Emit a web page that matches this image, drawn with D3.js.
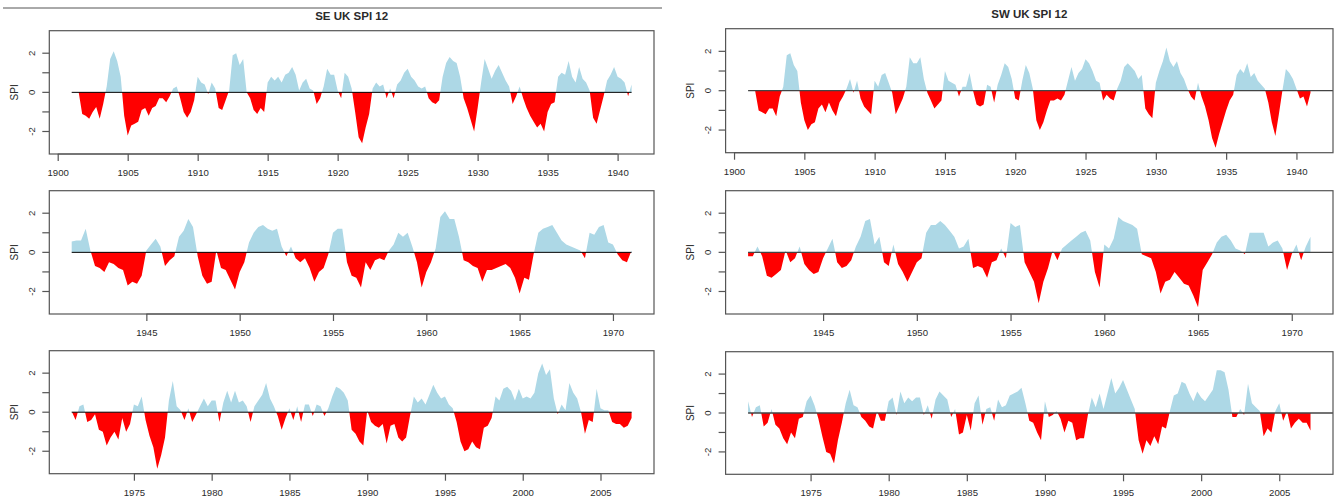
<!DOCTYPE html>
<html>
<head>
<meta charset="utf-8">
<script src="https://cdn.jsdelivr.net/npm/d3@7"></script>
<style>
  body { margin: 0; background: #fff; }
  text { font-family: "Liberation Sans", Arial, sans-serif; fill: #2a2a2a; }
</style>
</head>
<body>
<svg id="chart" width="1338" height="501"></svg>
<script>
// DATA ------------------------------------
// quarterly SPI-12 values (Jan, Apr, Jul, Oct of each year + last point)
const regionTitles = ["SE UK SPI 12", "SW UK SPI 12"];
const panelStarts = [1901, 1941, 1971];
const panelEnds = [1941, 1971, 2007];
const xTicks1 = [1900, 1905, 1910, 1915, 1920, 1925, 1930, 1935, 1940];
const xTicks2 = [1945, 1950, 1955, 1960, 1965, 1970];
const xTicks3 = [1975, 1980, 1985, 1990, 1995, 2000, 2005];
const yTicks = [-2, -1, 0, 1, 2];
const yTickLabels = ["-2", "", "0", "", "2"];

const seSpi1901 = [
  0, 0, 0, -1.1,  -1.2, -1.35, -1.0, -0.75,  -1.35, -0.6, 0.3, 1.7,  2.1, 1.6, 0.8, -1.2,
  -2.2, -1.7, -1.6, -1.5,  -0.9, -0.8, -1.2, -0.8,  -0.7, -0.3, -0.3, -0.5,  -0.2, 0.2, 0.3, -0.3,
  -1.0, -1.3, -1.0, -0.4,  0.8, 0.5, 0.4, -0.1,  0.5, 0.2, -0.8, -0.9,  -0.4, 0.1, 1.9, 2.0,
  1.4, 1.7, 0.0, -0.3,  -0.9, -1.1, -0.8, -1.0,  0.5, 0.8, 0.6, 0.8,  0.5, 0.9, 1.0, 1.3,
  0.9, 0.1, 0.5, 0.7,  0.2, 0.1, -0.6, -0.3,  0.3, 1.2, 0.9, 0.9,  0.1, -0.3, 1.0, 0.8,
  0.2, -1.0, -2.3, -2.6,  -1.8, -1.1, 0.2, 0.5,  0.3, 0.4, -0.3, 0.2,  -0.3, 0.4, 0.6, 1.0,
  1.2, 0.8, 0.6, 0.3,  0.2, 0.3, -0.3, -0.5,  -0.6, -0.4, 0.8, 1.5,  1.8, 1.6, 1.5, 0.8,
  -0.3, -0.8, -1.4, -2.0,  -0.8, 0.5, 1.7, 1.2,  0.7, 1.1, 1.4, 1.0,  0.6, 0.3, -0.6, -0.2,
  0.3, -0.3, -0.8, -1.2,  -1.5, -1.8, -1.6, -2.0,  -1.0, -0.6, -0.5, 0.8,  1.0, 0.9, 1.6, 0.8,
  0.5, 1.3, 0.7, 0.5,  0.1, -1.3, -1.6, -0.9,  -0.2, 0.6, 0.9, 1.3,  0.8, 0.7, 0.5, -0.2,
  0.4
];
const seSpi1941 = [
  0.55, 0.6, 0.6, 1.2,  0.1, -0.7, -0.8, -1.0,  -0.5, -0.6, -0.8, -0.9,  -1.7, -1.5, -1.6, -1.2,
  0.1, 0.4, 0.7, 0.3,  -0.7, -0.4, -0.2, 0.8,  1.1, 1.7, 1.3, -0.2,  -1.2, -1.6, -1.5, 0.1,
  -0.8, -0.9, -1.4, -1.9,  -1.0, -0.5, 0.5, 1.0,  1.3, 1.4, 1.2, 1.1,  1.2, 0.3, -0.2, 0.3,
  -0.3, -0.5, -0.3, -0.8,  -1.5, -1.0, -0.8, -0.1,  1.0, 1.2, 1.2, -0.5,  -1.2, -1.3, -1.8, -0.5,
  -0.9, -0.4, -0.3, -0.4,  0.1, 0.4, 1.0, 0.8,  1.0, 0.3, -0.5, -1.8,  -1.0, -0.5, 0.2, 1.8,
  2.1, 1.7, 1.7, 0.8,  -0.4, -0.5, -0.7, -0.8,  -1.5, -0.9, -0.9, -0.8,  -0.7, -0.6, -0.8, -1.3,
  -2.1, -1.3, -1.4, -0.1,  1.0, 1.2, 1.3, 1.4,  1.0, 0.6, 0.4, 0.3,  0.2, 0.1, -0.3, 1.0,
  0.9, 1.3, 1.4, 0.5,  0.4, -0.1, -0.4, -0.5,  0.1
];
const seSpi1971 = [
  0.05, -0.4, 0.3, 0.4,  -0.5, -0.4, -0.1, -0.9,  -1.0, -1.7, -1.3, -1.0,  -1.4, -0.3, -1.0, -0.6,
  0.4, 0.3, 0.8, -0.4,  -1.2, -1.8, -2.9, -2.2,  -1.3, 0.6, 1.6, 0.3,  0.1, -0.4, 0.2, -0.5,
  -0.1, 0.3, 0.7, 0.3,  0.6, 0.6, -0.5, 0.5,  1.1, 0.5, 1.1, 0.5,  0.6, 0.3, -0.5, 0.3,
  0.6, 0.9, 1.5, 0.7,  0.3, -0.2, -0.9, -0.3,  0.2, -0.4, 0.3, -0.5,  0.4, 0.4, -0.2, 0.4,
  0.3, -0.2, 0.2, 0.8,  1.3, 1.2, 1.0, 0.6,  -0.9, -1.1, -1.5, -1.7,  0.1, -0.5, -0.7, -0.8,
  -0.6, -1.6, -0.7, -0.6,  -1.3, -1.5, -1.3, -0.2,  0.8, 0.5, 0.7, 0.4,  0.9, 1.4, 1.0, 0.7,
  0.8, 0.4, 0.2, -0.5,  -1.5, -2.0, -1.9, -1.5,  -1.8, -1.9, -0.8, -0.7,  -0.3, 0.8, 0.6, 1.2,
  1.3, 1.1, 0.6, 1.2,  0.7, 0.8, 0.7, 1.0,  2.0, 2.5, 1.9, 2.2,  0.7, -0.1, 0.4, 0.1,
  1.5, 1.0, 0.7, 0.0,  -1.1, -0.4, -0.5, 1.2,  0.2, 0.1, 0.1, -0.5,  -0.6, -0.6, -0.8, -0.7,
  -0.3
];

const swSpi1901 = [
  0, 0, 0, -1.0,  -1.1, -1.2, -0.9, -0.9,  -1.3, -0.3, 0.2, 1.8,  1.9, 1.3, 1.0, -0.6,
  -1.5, -2.0, -1.7, -1.6,  -0.9, -0.7, -1.1, -0.6,  -1.0, -1.3, -0.6, -0.3,  0.1, 0.6, -0.1, 0.5,
  -0.4, -0.8, -1.0, -1.2,  0.5, 0.2, 0.8, 0.9,  0.4, -0.1, -1.2, -0.8,  -0.4, 0.2, 1.7, 1.4,
  1.4, 1.7, 0.6, -0.1,  -0.5, -0.9, -0.7, -0.5,  1.0, 0.5, 0.4, 0.3,  -0.3, 0.2, 0.2, 0.9,
  0.0, -0.7, -0.8, -0.7,  0.3, 0.2, -0.6, 0.3,  0.8, 1.4, 1.2, 0.6,  -0.4, -0.5, 0.5, 1.3,
  0.9, 0.1, -1.5, -2.0,  -1.6, -1.0, -0.5, -0.5,  -0.4, -0.5, -0.2, 0.5,  1.2, 0.5, 0.9, 1.1,
  1.6, 1.4, 1.0, 0.5,  0.4, -0.5, -0.2, -0.4,  -0.5, 0.1, 0.5, 1.2,  1.4, 1.2, 1.0, 0.6,
  0.8, -0.9, -1.2, -1.4,  0.4, 1.0, 1.5, 2.2,  1.5, 1.2, 1.5, 0.9,  0.6, 0.1, -0.3, -0.5,
  0.4, -0.3, -0.8, -1.5,  -2.4, -2.9, -2.2, -1.6,  -1.0, -0.5, -0.2, 0.8,  1.1, 0.9, 1.4, 0.7,
  0.9, 0.5, 0.3, 0.1,  -0.6, -1.6, -2.3, -1.2,  0.0, 1.1, 0.9, 0.6,  0.1, -0.4, -0.3, -0.8,
  -0.1
];
const swSpi1941 = [
  -0.2, -0.2, 0.3, -0.2,  -1.2, -1.3, -1.1, -0.9,  0.1, -0.5, -0.3, 0.3,  -0.6, -0.9, -1.1, -1.0,
  -0.3, 0.2, 0.7, -0.5,  -0.8, -0.7, -0.4, 0.3,  0.8, 1.6, 1.7, 0.4,  0.8, -0.5, -0.7, 0.4,
  -0.6, -1.0, -1.5, -1.0,  -0.5, -0.3, 1.0, 1.4,  1.4, 1.6, 1.4, 1.1,  0.8, 0.2, 0.3, 0.7,
  -0.8, -0.7, -0.8, -1.3,  -0.5, -0.4, 0.2, -0.3,  1.5, 1.3, 1.4, -0.5,  -1.0, -1.5, -2.6, -1.5,
  -0.8, 0.1, -0.4, 0.2,  0.4, 0.6, 0.8, 1.0,  1.1, 0.6, -1.0, -1.8,  0.4, 0.2, 0.7, 1.8,
  1.6, 1.5, 1.4, 1.2,  -0.1, -0.2, -0.3, -1.0,  -2.1, -1.5, -1.4, -1.0,  -1.3, -1.6, -1.7, -2.2,
  -2.8, -0.9, -0.5, -0.1,  0.5, 0.8, 0.9, 0.6,  0.2, 0.1, -0.1, 1.0,  1.0, 1.0, 1.0, 0.3,
  0.5, 0.6, 0.2, -0.9,  -0.1, 0.4, -0.4, 0.3,  0.8
];
const swSpi1971 = [
  0.6, -0.2, 0.3, 0.4,  -0.7, -0.5, 0.2, -0.6,  -0.8, -1.3, -1.6, -1.0,  -1.3, -0.3, -0.2, 0.6,
  0.9, 0.4, -0.3, -1.2,  -2.0, -2.1, -2.6, -1.4,  -0.5, 0.5, 1.2, 0.4,  0.3, -0.2, -0.4, -0.7,
  -0.8, 0.1, -0.4, -0.4,  0.6, 0.8, -0.1, 1.1,  0.5, 0.8, 0.6, 0.8,  0.8, -0.1, 0.4, -0.3,
  0.7, 1.1, 0.9, 0.7,  -0.2, 0.2, -1.1, -1.0,  -0.1, -0.9, 0.5, 0.9,  -0.6, 0.2, 0.3, -0.4,
  0.7, 0.3, 0.4, 0.9,  1.0, 1.1, 1.3, 0.5,  -0.4, -0.5, -1.0, -1.4,  0.6, -0.2, -0.1, 0.1,
  -0.3, -1.0, -0.4, -0.5,  -1.4, -1.3, -1.3, -0.1,  0.8, 0.3, 1.0, 0.2,  1.0, 1.8, 1.0, 1.3,
  1.7, 1.2, 0.7, 0.2,  -1.4, -2.1, -1.4, -1.7,  -1.2, -1.6, -0.7, -0.8,  0.1, 0.9, 1.0, 1.6,
  1.5, 1.0, 0.6, 1.1,  0.8, 0.6, 0.9, 1.2,  2.2, 2.2, 2.1, 1.2,  -0.2, -0.2, 0.2, -0.1,
  1.5, 0.5, 0.3, 0.1,  -1.2, -0.8, -1.0, 0.1,  0.5, -0.4, 0.1, -0.8,  -0.5, -0.3, -0.5, -0.5,
  -0.9
];

// LAYOUT ----------------------------------
const svg = d3.select("#chart");
const xTickSets = [xTicks1, xTicks2, xTicks3];
const seSeries = [seSpi1901, seSpi1941, seSpi1971];
const swSeries = [swSpi1901, swSpi1941, swSpi1971];

const columns = [
  {title: regionTitles[0], titleY: 19.5, series: seSeries, left: 49.3, right: 654,
   tops: [30.7, 190.7, 350.7], bottoms: [154, 314, 473.7], zeroToEdge: false},
  {title: regionTitles[1], titleY: 17.5, series: swSeries, left: 725.6, right: 1333,
   tops: [28.7, 190.7, 351.7], bottoms: [152.7, 314, 474.3], zeroToEdge: true}
];

// rule across the top of the SE figure
svg.append("line")
  .attr("x1", 3).attr("x2", 662)
  .attr("y1", 8).attr("y2", 8)
  .attr("stroke", "#555").attr("stroke-width", 1);

columns.forEach(col => {
  svg.append("text")
    .attr("x", (col.left + col.right) / 2)
    .attr("y", col.titleY)
    .attr("text-anchor", "middle")
    .attr("font-size", "11.5px")
    .attr("font-weight", "bold")
    .attr("fill", "#111")
    .text(col.title);

  col.series.forEach((vals, p) => {
    drawPanel({
      left: col.left, right: col.right, top: col.tops[p], bottom: col.bottoms[p],
      start: panelStarts[p], end: panelEnds[p], vals: vals,
      ticks: xTickSets[p], zeroToEdge: col.zeroToEdge
    });
  });
});

// PANEL -----------------------------------
function drawPanel(o) {
  const pad = (o.end - o.start) * 0.04;
  const x = d3.scaleLinear()
    .domain([o.start - pad, o.end + pad])
    .range([o.left, o.right]);
  const y = d3.scaleLinear()
    .domain([-3.15, 3.15])
    .range([o.bottom, o.top]);

  const g = svg.append("g");

  // quarterly points, with the zero crossings added so both fills meet cleanly
  const pts = o.vals.map((v, i) => ({t: o.start + i / 4, v: v}));
  const full = [];
  pts.forEach((d, i) => {
    if (i > 0) {
      const q = pts[i - 1];
      if (q.v * d.v < 0) {
        const f = q.v / (q.v - d.v);
        full.push({t: q.t + f * (d.t - q.t), v: 0});
      }
    }
    full.push(d);
  });

  const pos = d3.area()
    .x(d => x(d.t))
    .y0(y(0))
    .y1(d => y(Math.max(0, d.v)));
  const neg = d3.area()
    .x(d => x(d.t))
    .y0(y(0))
    .y1(d => y(Math.min(0, d.v)));

  g.append("path").datum(full).attr("d", pos).attr("fill", "#ADD8E6");
  g.append("path").datum(full).attr("d", neg).attr("fill", "#FF0000");

  // zero line
  g.append("line")
    .attr("x1", x(o.start))
    .attr("x2", o.zeroToEdge ? o.right : x(o.end))
    .attr("y1", y(0)).attr("y2", y(0))
    .attr("stroke", o.zeroToEdge ? "#444" : "#000")
    .attr("stroke-width", o.zeroToEdge ? 1.3 : 1);

  // frame
  g.append("rect")
    .attr("x", o.left).attr("y", o.top)
    .attr("width", o.right - o.left).attr("height", o.bottom - o.top)
    .attr("fill", "none").attr("stroke", "#555").attr("stroke-width", 1.2);

  // x axis
  const xAxis = d3.axisBottom(x)
    .tickValues(o.ticks)
    .tickSize(7)
    .tickPadding(8)
    .tickFormat(d3.format("d"));
  const xg = g.append("g")
    .attr("transform", `translate(0, ${o.bottom})`)
    .call(xAxis);
  xg.select(".domain")
    .attr("d", `M${x(o.ticks[0])},0H${x(o.ticks[o.ticks.length - 1])}`)
    .attr("stroke", "#555").attr("stroke-width", 1.2);
  xg.selectAll(".tick line").attr("stroke", "#555").attr("stroke-width", 1.2);
  xg.selectAll(".tick text")
    .attr("font-size", "9.6px")
    .attr("font-family", "Liberation Sans, Arial, sans-serif")
    .attr("fill", "#2a2a2a");

  // y axis, labels parallel to the axis
  const yg = g.append("g");
  yg.selectAll("line")
    .data(yTicks)
    .enter()
    .append("line")
    .attr("x1", o.left - 7).attr("x2", o.left)
    .attr("y1", d => y(d)).attr("y2", d => y(d))
    .attr("stroke", "#555").attr("stroke-width", 1.2);
  yg.selectAll("text")
    .data(yTicks)
    .enter()
    .append("text")
    .attr("transform", d => `translate(${o.left - 17.5}, ${y(d)}) rotate(-90)`)
    .attr("text-anchor", "middle")
    .attr("dy", "0.35em")
    .attr("font-size", "9.6px")
    .text((d, i) => yTickLabels[i]);

  g.append("text")
    .attr("transform", `translate(${o.left - 35}, ${y(0)}) rotate(-90)`)
    .attr("text-anchor", "middle")
    .attr("dy", "0.35em")
    .attr("font-size", "10px")
    .text("SPI");
}
</script>
</body>
</html>
